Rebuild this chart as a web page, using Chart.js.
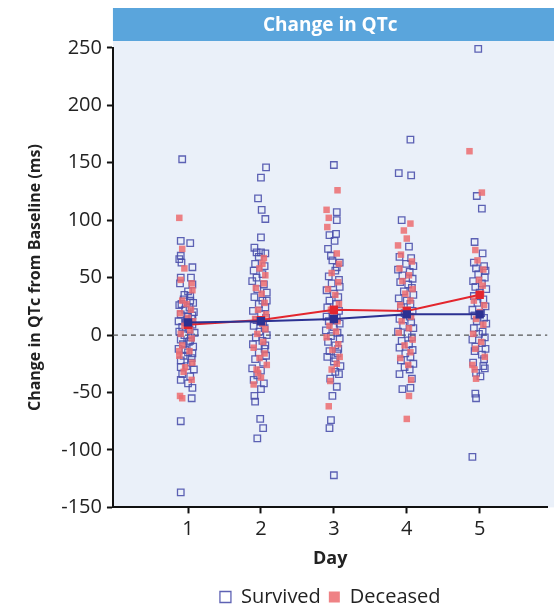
<!DOCTYPE html>
<html>
<head>
<meta charset="utf-8">
<script src="https://cdn.jsdelivr.net/npm/chart.js@4"></script>
<style>
  html, body { margin: 0; padding: 0; background: #fff; }
  #wrap { width: 554px; height: 608px; }
</style>
</head>
<body>
<div id="wrap"><canvas id="qtcChart" width="554" height="608"></canvas></div>
<script>
// Days on the x axis
const days = [1, 2, 3, 4, 5];
const yTicks = [250, 200, 150, 100, 50, 0, -50, -100, -150];

// Each point: [horizontal jitter in days, change in QTc (ms)]
const survivedDay1 = [[-0.08,153],[-0.1,82],[0.03,80],[-0.1,69],[-0.12,66],[-0.09,63],[0.06,59],[-0.1,50],[0.04,50],[-0.11,45],[0.06,44],[0.0,38],[-0.05,35],[0.03,34],[-0.06,31],[0.03,30],[0.07,28],[-0.09,27],[-0.12,26],[0.02,24],[-0.04,22],[0.08,20],[-0.1,18],[0.06,17],[0.0,16],[0.05,14],[-0.02,13],[-0.13,12],[-0.03,11],[0.06,9],[-0.08,7],[0.02,5],[-0.12,3],[0.09,2],[-0.05,0],[0.04,-2],[-0.1,-4],[0.03,-5],[0.01,-6],[-0.07,-8],[0.07,-10],[-0.13,-12],[-0.04,-13],[0.0,-15],[0.06,-16],[-0.06,-18],[0.05,-20],[-0.1,-22],[0.04,-24],[-0.02,-27],[-0.1,-28],[0.08,-30],[-0.08,-34],[0.03,-36],[-0.1,-39],[0.0,-42],[0.06,-46],[0.05,-55],[-0.1,-75],[-0.1,-137]];
const survivedDay2 = [[0.07,146],[0.0,137],[-0.04,119],[0.01,109],[0.06,101],[0.0,85],[-0.09,76],[-0.06,72],[0.0,72],[0.06,71],[-0.03,68],[-0.08,62],[0.05,60],[-0.1,56],[0.02,53],[-0.06,50],[-0.12,47],[0.04,44],[-0.05,40],[0.08,37],[-0.09,33],[0.02,30],[0.08,30],[-0.03,27],[0.06,24],[-0.11,21],[0.0,18],[0.07,15],[-0.06,13],[0.03,11],[-0.1,8],[0.05,6],[-0.02,3],[0.08,0],[-0.07,-2],[0.02,-5],[-0.11,-8],[0.06,-9],[0.05,-12],[-0.03,-15],[0.07,-18],[-0.08,-21],[0.03,-24],[-0.12,-29],[0.0,-31],[-0.05,-35],[-0.1,-39],[0.04,-42],[0.0,-47],[-0.09,-53],[-0.08,-58],[-0.01,-73],[0.03,-81],[-0.05,-90]];
const survivedDay3 = [[0.0,148],[0.04,107],[0.04,100],[0.03,88],[-0.06,87],[0.01,82],[-0.08,75],[-0.04,69],[-0.02,65],[0.08,63],[0.04,59],[0.02,56],[-0.07,51],[0.07,48],[-0.03,45],[0.08,42],[-0.1,39],[0.0,36],[0.06,33],[-0.06,30],[0.03,27],[-0.09,24],[0.07,21],[-0.02,18],[-0.1,16],[0.04,15],[-0.07,12],[0.08,10],[0.0,7],[-0.11,4],[0.05,2],[-0.04,-1],[0.08,-3],[-0.08,-6],[0.02,-9],[0.06,-12],[-0.06,-14],[0.05,-16],[-0.09,-19],[0.02,-20],[0.0,-23],[0.09,-27],[0.02,-32],[0.07,-34],[-0.05,-38],[0.04,-45],[-0.02,-53],[-0.04,-74],[-0.06,-81],[0.0,-122]];
const survivedDay4 = [[0.05,170],[-0.11,141],[0.06,139],[-0.07,100],[0.03,77],[-0.1,68],[0.06,67],[-0.01,62],[0.09,60],[-0.12,57],[0.04,55],[-0.06,52],[0.08,49],[-0.09,46],[0.02,44],[0.07,41],[-0.04,38],[0.09,35],[-0.11,32],[0.0,30],[0.05,27],[-0.08,24],[0.08,21],[-0.03,19],[0.04,16],[-0.1,14],[0.06,11],[-0.05,8],[0.09,6],[-0.12,3],[0.01,1],[0.07,-2],[-0.07,-5],[0.03,-8],[-0.1,-11],[0.08,-13],[-0.02,-16],[0.05,-19],[-0.08,-22],[0.09,-25],[-0.03,-28],[0.04,-30],[-0.1,-34],[0.07,-38],[0.05,-46],[-0.06,-47]];
const survivedDay5 = [[-0.02,249],[-0.04,121],[0.03,110],[-0.07,81],[0.04,71],[-0.08,63],[0.06,60],[-0.05,58],[0.08,56],[-0.02,53],[0.07,50],[-0.09,47],[0.03,45],[-0.06,42],[0.09,40],[0.0,37],[-0.08,34],[0.05,31],[-0.03,28],[0.08,25],[-0.1,22],[0.02,19],[-0.07,17],[0.06,15],[-0.04,12],[0.09,10],[-0.08,6],[0.04,3],[-0.01,1],[0.07,-2],[-0.1,-4],[0.03,-7],[-0.06,-10],[0.08,-12],[-0.07,-14],[0.03,-17],[0.06,-21],[-0.09,-24],[0.05,-27],[0.07,-29],[-0.05,-33],[0.01,-36],[-0.06,-51],[-0.05,-55],[-0.1,-106]];

const deceasedDay1 = [[-0.12,102],[-0.08,75],[-0.05,58],[-0.1,48],[0.05,45],[0.06,39],[-0.08,30],[-0.02,27],[0.04,22],[-0.11,19],[0.0,15],[0.07,12],[-0.05,8],[0.03,4],[-0.1,1],[0.05,-3],[-0.08,-9],[-0.12,-14],[0.02,-14],[-0.12,-18],[0.06,-24],[-0.04,-28],[-0.06,-32],[0.05,-39],[-0.11,-53],[-0.08,-55]];
const deceasedDay2 = [[0.04,67],[0.02,62],[-0.02,58],[0.06,52],[0.04,45],[-0.07,41],[0.01,36],[0.05,28],[-0.04,22],[0.07,18],[-0.08,14],[0.02,10],[0.06,5],[-0.05,1],[0.03,-6],[-0.1,-11],[0.05,-16],[-0.02,-20],[0.08,-26],[-0.06,-30],[-0.04,-33],[0.0,-37],[-0.1,-43]];
const deceasedDay3 = [[0.05,126],[-0.1,109],[-0.07,102],[-0.09,94],[0.04,71],[0.07,62],[-0.03,54],[0.06,46],[-0.08,40],[0.02,35],[0.07,27],[-0.04,22],[0.0,19],[0.05,12],[-0.06,8],[0.03,3],[-0.1,-2],[0.06,-8],[-0.02,-13],[0.08,-19],[0.04,-25],[-0.03,-30],[-0.05,-40],[-0.07,-62]];
const deceasedDay4 = [[0.05,97],[-0.04,91],[0.0,84],[-0.12,78],[-0.08,70],[0.07,64],[-0.1,58],[0.03,52],[-0.06,47],[0.08,40],[-0.02,36],[0.05,30],[-0.09,26],[0.01,22],[0.06,16],[-0.07,12],[0.03,6],[-0.11,2],[0.08,-4],[-0.03,-9],[0.05,-15],[-0.09,-20],[0.02,-26],[0.06,-39],[0.03,-53],[0.0,-73]];
const deceasedDay5 = [[-0.14,160],[0.03,124],[-0.06,74],[-0.03,65],[0.05,57],[-0.01,48],[0.04,43],[0.02,36],[-0.08,30],[0.06,26],[0.0,20],[-0.05,14],[0.05,9],[-0.09,1],[0.02,-6],[-0.06,-12],[0.07,-19],[-0.1,-26],[-0.07,-30],[-0.05,-38]];

// Group means per day
const survivedMean = [11, 12, 14, 18, 18];
const deceasedMean = [9, 13, 22, 21, 35];

const survivedByDay = [survivedDay1, survivedDay2, survivedDay3, survivedDay4, survivedDay5];
const deceasedByDay = [deceasedDay1, deceasedDay2, deceasedDay3, deceasedDay4, deceasedDay5];

// turn jittered lists into {x, y} points
function toPoints(groups) {
    const pts = [];
    groups.forEach(function (list, i) {
        list.forEach(function (p) {
            pts.push({ x: days[i] + p[0], y: p[1] });
        });
    });
    return pts;
}

const FONT = "'Open Sans', 'Noto Sans', sans-serif";

// Header bar and light plot background
const panelPlugin = {
    id: 'panel',
    beforeDraw: function (chart) {
        const ctx = chart.ctx;
        const area = chart.chartArea;
        const tb = chart.titleBlock;
        const barTop = tb.top;
        const barH = 33;
        ctx.save();
        ctx.fillStyle = '#eaf0f9';
        ctx.fillRect(area.left, barTop + barH, chart.width - area.left, area.bottom - barTop - barH);
        ctx.fillStyle = '#5aa5dc';
        ctx.fillRect(area.left, barTop, chart.width - area.left, barH);
        ctx.restore();
    }
};

const ctx = document.getElementById('qtcChart').getContext('2d');
const qtcChart = new Chart(ctx, {
    type: 'scatter',
    data: {
        datasets: [
            {
                label: 'Survived',
                data: toPoints(survivedByDay),
                pointStyle: 'rect',
                pointRadius: 4.6,
                pointBorderWidth: 1.3,
                borderWidth: 1.5,
                borderColor: 'rgba(72, 76, 170, 0.88)',
                backgroundColor: 'rgba(255, 255, 255, 0)',
                clip: false,
                order: 2
            },
            {
                label: 'Deceased',
                data: toPoints(deceasedByDay),
                pointStyle: 'rect',
                pointRadius: 4.6,
                borderWidth: 0,
                borderColor: 'rgba(236, 108, 112, 0.85)',
                backgroundColor: 'rgba(236, 108, 112, 0.85)',
                clip: false,
                order: 1
            },
            {
                label: 'Survived mean',
                data: days.map((d, i) => ({ x: d, y: survivedMean[i] })),
                showLine: true,
                borderColor: '#2c3192',
                backgroundColor: '#2c3192',
                borderWidth: 2,
                pointStyle: 'rect',
                pointRadius: 4.5,
                order: 0
            },
            {
                label: 'Deceased mean',
                data: days.map((d, i) => ({ x: d, y: deceasedMean[i] })),
                showLine: true,
                borderColor: '#e3262e',
                backgroundColor: '#e3262e',
                borderWidth: 2,
                pointStyle: 'rect',
                pointRadius: 4.5,
                order: 0
            },
            {
                label: 'zero',
                data: [{ x: -0.03, y: 0 }, { x: 5.93, y: 0 }],
                showLine: true,
                borderColor: '#555',
                borderWidth: 1.3,
                borderDash: [5, 4],
                pointRadius: 0,
                order: 3
            }
        ]
    },
    options: {
        responsive: false,
        animation: false,
        devicePixelRatio: 1,
        layout: { padding: { left: 26, right: 0, top: 8, bottom: -9 } },
        scales: {
            x: {
                type: 'linear',
                min: -0.03,
                max: 5.93,
                afterBuildTicks: function (scale) {
                    scale.ticks = days.map(v => ({ value: v }));
                },
                border: { color: '#111', width: 2 },
                grid: { drawOnChartArea: false, tickLength: 6, tickWidth: 2, tickColor: '#111' },
                ticks: { color: '#222', font: { family: FONT, size: 20 }, padding: 4 },
                title: { display: true, text: 'Day', color: '#222', font: { family: FONT, size: 18, weight: 'bold' }, padding: { top: 3, bottom: 9 } }
            },
            y: {
                min: -150,
                max: 250,
                afterBuildTicks: function (scale) {
                    scale.ticks = yTicks.map(v => ({ value: v }));
                },
                border: { color: '#111', width: 2 },
                grid: { drawOnChartArea: false, tickLength: 6, tickWidth: 2, tickColor: '#111' },
                ticks: { color: '#222', font: { family: FONT, size: 20 }, padding: 5 },
                title: { display: true, text: 'Change in QTc from Baseline (ms)', color: '#222', font: { family: FONT, size: 16, weight: 'bold' }, padding: { top: 0, bottom: 11 } }
            }
        },
        plugins: {
            title: {
                display: true,
                fullSize: false,
                text: 'Change in QTc',
                color: '#ffffff',
                font: { family: FONT, size: 19, weight: 'bold' },
                padding: { top: 6, bottom: 11 }
            },
            legend: {
                display: true,
                position: 'bottom',
                fullSize: false,
                labels: {
                    filter: item => item.datasetIndex < 2,
                    sort: (a, b) => a.datasetIndex - b.datasetIndex,
                    boxWidth: 11,
                    boxHeight: 11,
                    padding: 8,
                    color: '#222',
                    font: { family: FONT, size: 20 }
                }
            },
            tooltip: { enabled: false }
        }
    },
    plugins: [panelPlugin]
});
</script>
</body>
</html>
